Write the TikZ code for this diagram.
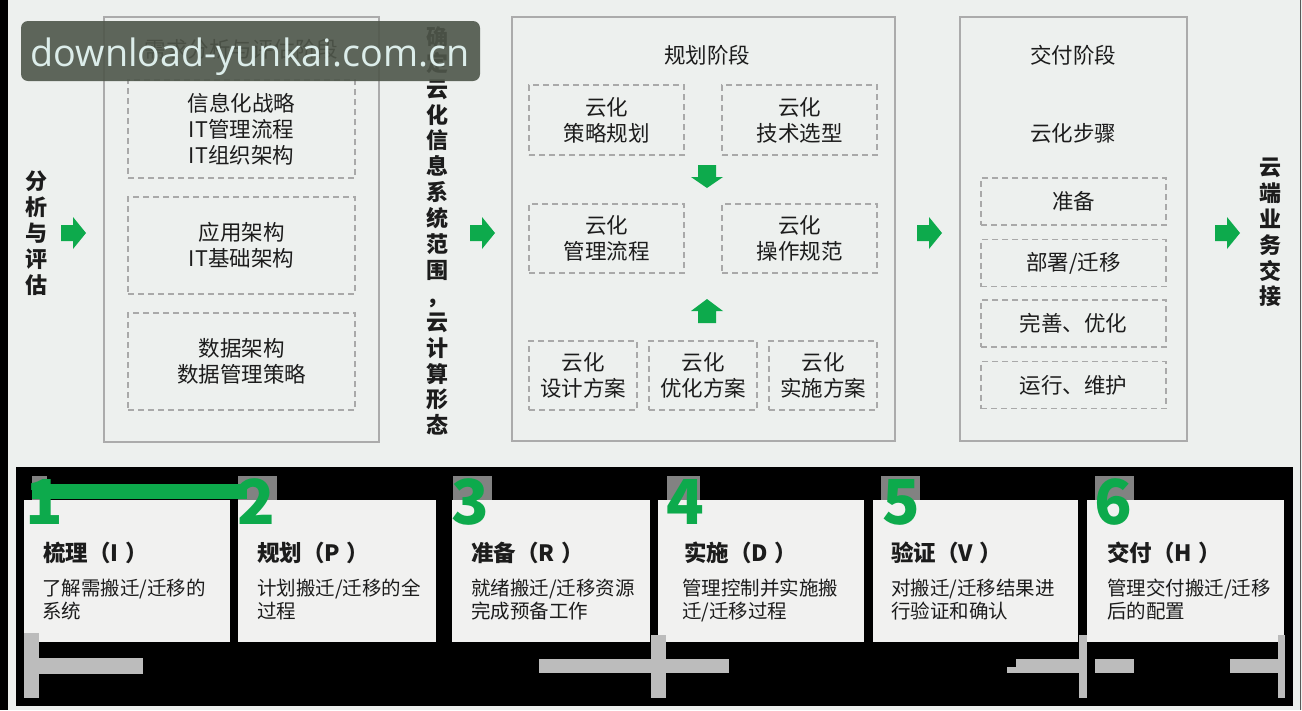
\documentclass[tikz,border=0pt]{standalone}
\usepackage{fontspec}
\setmainfont{Noto Sans CJK SC}
\newfontfamily\wmfont{Open Sans}
\definecolor{bg}{HTML}{EDF0EE}
\definecolor{boxline}{HTML}{ABABAB}
\definecolor{dashline}{HTML}{A9A9A9}
\definecolor{grn}{HTML}{0DAA4C}
\definecolor{cardfill}{HTML}{F1F1F0}
\definecolor{barcol}{HTML}{BCBCBC}
\definecolor{sqcol}{HTML}{828282}
\definecolor{wmcol}{HTML}{4E564A}
\definecolor{wmtext}{HTML}{DCEDEA}
\definecolor{txt}{HTML}{1C1C1C}
\newcommand\rarr[1]{\fill[grn] (#1,225) -- ++(12,0) -- ++(0,-8) -- ++(13,16) -- ++(-13,16) -- ++(0,-8) -- ++(-12,0) -- cycle;}
\begin{document}
\begin{tikzpicture}[x=1pt,y=-1pt,
  every node/.style={inner sep=0pt, outer sep=0pt, text=txt},
  mainbox/.style={draw=boxline, line width=1.6pt},
  dbox/.style={draw=dashline, line width=1.3pt, dash pattern=on 6pt off 4pt, align=center,
    font={\fontsize{21.5}{26}\selectfont}},
  head/.style={font={\fontsize{21.5}{26}\selectfont}},
  vtext/.style={align=center, font={\fontsize{22}{25.9}\selectfont\bfseries}},
  cardbox/.style={fill=cardfill, minimum height=142},
  digit/.style={anchor=base, text=grn, font={\fontsize{62}{62}\selectfont\bfseries}},
  ctitle/.style={anchor=base west, font={\fontsize{22.5}{26}\selectfont\bfseries}},
  cbody/.style={anchor=base west, font={\fontsize{19.5}{22.5}\selectfont}}]
\useasboundingbox (0,0) rectangle (1302,710);
\fill[bg] (0,0) rectangle (1302,710);
\fill[black] (0,0) rectangle (8,710);
\draw[black!65, line width=1.2pt] (1300.6,0) -- (1300.6,710);

% ---------- top part ----------
\node[vtext] (vleft) at (36,233) {分\\析\\与\\评\\估};
\rarr{61}
\node[mainbox, minimum width=275, minimum height=425] (box1) at (241.5,229.5) {};
\node[head] (h1) at (241.5,49) {需求分析与评估阶段};
\node[dbox, minimum width=227, minimum height=98] (d1a) at (241.5,129) {信息化战略\\IT管理流程\\IT组织架构};
\node[dbox, minimum width=227, minimum height=97] (d1b) at (241.5,245.5) {应用架构\\IT基础架构};
\node[dbox, minimum width=227, minimum height=97] (d1c) at (241.5,361.5) {数据架构\\数据管理策略};

\node[vtext] (vmid) at (437,231) {确\\定\\云\\化\\信\\息\\系\\统\\范\\围\\，\\云\\计\\算\\形\\态};
\rarr{470}
\node[mainbox, minimum width=383, minimum height=424] (box2) at (703.5,229) {};
\node[head] (h2) at (707,55) {规划阶段};
\node[dbox, minimum width=155, minimum height=70] (p1) at (606.5,120) {云化\\策略规划};
\node[dbox, minimum width=155, minimum height=70] (p2) at (799.5,120) {云化\\技术选型};
\node[dbox, minimum width=155, minimum height=69] (p3) at (606.5,238.5) {云化\\管理流程};
\node[dbox, minimum width=155, minimum height=69] (p4) at (799.5,238.5) {云化\\操作规范};
\node[dbox, minimum width=108, minimum height=69] (p5) at (583,375.5) {云化\\设计方案};
\node[dbox, minimum width=108, minimum height=69] (p6) at (703,375.5) {云化\\优化方案};
\node[dbox, minimum width=108, minimum height=69] (p7) at (823,375.5) {云化\\实施方案};
\fill[grn] (698,165) -- (716,165) -- (716,177) -- (723,177) -- (707,188) -- (691,177) -- (698,177) -- cycle;
\fill[grn] (707,299) -- (723,311) -- (716,311) -- (716,323) -- (698,323) -- (698,311) -- (691,311) -- cycle;

\rarr{917}
\node[mainbox, minimum width=227, minimum height=424] (box3) at (1073.5,229) {};
\node[head] (h3) at (1073,55) {交付阶段};
\node[head] (h4) at (1073,133) {云化步骤};
\node[dbox, minimum width=185, minimum height=47] (s1) at (1073.5,201.5) {准备};
\node[dbox, minimum width=185, minimum height=47] (s2) at (1073.5,263) {部署/迁移};
\node[dbox, minimum width=185, minimum height=47] (s3) at (1073.5,323.5) {完善、优化};
\node[dbox, minimum width=185, minimum height=47] (s4) at (1073.5,385) {运行、维护};
\rarr{1215}
\node[vtext] (vright) at (1270,232.5) {云\\端\\业\\务\\交\\接};

% ---------- bottom part ----------
\fill[black] (16,467) rectangle (1293,706);
\fill[sqcol] (32,476) rectangle (47,500);
\fill[sqcol] (238,476) rectangle (277,500);
\fill[sqcol] (453,476) rectangle (492,502);
\fill[sqcol] (667,476) rectangle (700,502);
\fill[sqcol] (881,476) rectangle (920,502);
\fill[sqcol] (1095,476) rectangle (1134,502);

\node[cardbox, minimum width=206] (c1) at (127,571) {};
\node[cardbox, minimum width=198] (c2) at (337,571) {};
\node[cardbox, minimum width=198] (c3) at (551,571) {};
\node[cardbox, minimum width=206] (c4) at (761,571) {};
\node[cardbox, minimum width=205] (c5) at (975.5,571) {};
\node[cardbox, minimum width=197] (c6) at (1185.5,571) {};

\fill[grn] (32,484) rectangle (247,499);

\node[digit] (n1) at (44,524) {1};
\node[digit] (n2) at (256.5,524) {2};
\node[digit] (n3) at (470,524) {3};
\node[digit] (n4) at (685,524) {4};
\node[digit] (n5) at (901.5,524) {5};
\node[digit] (n6) at (1113.5,524) {6};

\node[ctitle] (t1) at (43,561.5) {梳理（I\hspace{7pt}）};
\node[ctitle] (t2) at (257,561.5) {规划（P\hspace{7pt}）};
\node[ctitle] (t3) at (471,561.5) {准备（R\hspace{7pt}）};
\node[ctitle] (t4) at (684,561.5) {实施（D\hspace{7pt}）};
\node[ctitle] (t5) at (891,561.5) {验证（V\hspace{7pt}）};
\node[ctitle] (t6) at (1107,561.5) {交付（H\hspace{7pt}）};

\node[cbody] (b1a) at (42,595.5) {了解需搬迁/迁移的};
\node[cbody] (b1b) at (42,618) {系统};
\node[cbody] (b2a) at (257,595.5) {计划搬迁/迁移的全};
\node[cbody] (b2b) at (257,618) {过程};
\node[cbody] (b3a) at (471,595.5) {就绪搬迁/迁移资源};
\node[cbody] (b3b) at (471,618) {完成预备工作};
\node[cbody] (b4a) at (682,595.5) {管理控制并实施搬};
\node[cbody] (b4b) at (682,618) {迁/迁移过程};
\node[cbody] (b5a) at (891,595.5) {对搬迁/迁移结果进};
\node[cbody] (b5b) at (891,618) {行验证和确认};
\node[cbody] (b6a) at (1107,595.5) {管理交付搬迁/迁移};
\node[cbody] (b6b) at (1107,618) {后的配置};

\fill[barcol] (24,633) rectangle (39,698);
\fill[barcol] (39,658) rectangle (143,674);
\fill[barcol] (539,659) rectangle (729,673);
\fill[barcol] (651,635) rectangle (666,698);
\fill[barcol] (1016,659) rectangle (1080,673);
\fill[barcol] (1007,667) rectangle (1016,673);
\fill[barcol] (1079,635) rectangle (1087,698);
\fill[barcol] (1095,659) rectangle (1134,673);
\fill[barcol] (1230,659) rectangle (1278,673);
\fill[barcol] (1278,635) rectangle (1285,698);

% ---------- watermark ----------
\node[fill=wmcol, fill opacity=0.9, rounded corners=7pt, minimum width=459, minimum height=60] (wm) at (250.5,51) {};
\node[anchor=base, text=wmtext, font={\wmfont\fontsize{37.7}{40}\selectfont}] (wmt) at (250,66) {download-yunkai.com.cn};
\end{tikzpicture}
\end{document}
